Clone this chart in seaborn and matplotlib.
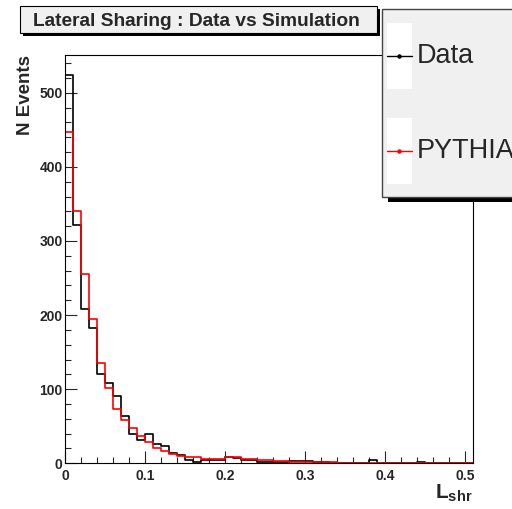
import numpy as np
import pandas as pd
import matplotlib
matplotlib.use('Agg')
import matplotlib.pyplot as plt
from matplotlib.patches import Rectangle
from matplotlib.lines import Line2D
import seaborn as sns

# bin edges: 51 bins of width 0.01 from 0 to 0.51
bin_edges = [round(i * 0.01, 3) for i in range(52)]

data_counts = [524, 322, 208, 183, 121, 108, 91, 64, 40, 31,
               39, 26, 24, 14, 11, 5, 2, 5, 5, 5,
               8, 7, 5, 5, 2, 2, 2, 2, 3, 3,
               3, 2, 2, 1, 1, 1, 0, 1, 5, 1,
               1, 1, 1, 1, 2, 1, 1, 1, 0, 1, 0]

pythia_counts = [447, 340, 255, 195, 135, 102, 73, 58, 47, 37,
                 29, 20, 16, 13, 10, 9, 8, 6, 6, 6,
                 9, 8, 6, 6, 4, 4, 3, 3, 2, 2,
                 2, 2, 2, 2, 1, 1, 1, 1, 1, 1,
                 1, 1, 1, 1, 1, 1, 1, 1, 1, 1, 0]

series_names = ['Data', 'PYTHIA']
series_colors = ['black', '#ff0000']
x_ticks = [0, 0.1, 0.2, 0.3, 0.4, 0.5]
x_tick_labels = ['0', '0.1', '0.2', '0.3', '0.4', '0.5']
y_ticks = [0, 100, 200, 300, 400, 500]

sns.set_style('ticks')
plt.rcParams['font.family'] = ['Liberation Sans', 'DejaVu Sans']
plt.rcParams['mathtext.fontset'] = 'custom'
plt.rcParams['mathtext.bf'] = 'Liberation Sans:bold'
plt.rcParams['mathtext.rm'] = 'Liberation Sans'

edges = np.array(bin_edges)
centers = (edges[:-1] + edges[1:]) / 2
df = pd.DataFrame({
    'x': np.concatenate([centers, centers]),
    'n': data_counts + pythia_counts,
    'src': ['Data'] * len(centers) + ['PYTHIA'] * len(centers),
})

W, H = 512, 509
fig = plt.figure(figsize=(W / 100, H / 100), dpi=100)
fig.patch.set_facecolor('white')
ax = fig.add_axes([65.3 / W, 1 - 463.3 / H, (473 - 65.3) / W, (463.3 - 55) / H])

for name, col in zip(series_names, series_colors):
    sub = df[df['src'] == name].reset_index(drop=True)
    sns.histplot(data=sub, x='x', weights='n', bins=bin_edges, element='step',
                 fill=False, color=col, linewidth=1.2, ax=ax)

ax.set_xlim(0, 0.51)
ax.set_ylim(0, 551)
ax.set_xticks(x_ticks)
ax.set_xticklabels(x_tick_labels)
ax.set_xticks(np.arange(0, 0.51, 0.02), minor=True)
ax.set_yticks(y_ticks)
ax.set_yticks(np.arange(0, 551, 20), minor=True)
ax.tick_params(which='both', direction='in', top=False, right=False, width=0.8)
ax.tick_params(which='major', length=8.5, labelsize=10)
ax.tick_params(which='minor', length=4.2)
ax.tick_params(axis='x', pad=4)
ax.tick_params(axis='y', pad=2)
for lab in ax.get_xticklabels() + ax.get_yticklabels():
    lab.set_fontweight('bold')
for sp in ax.spines.values():
    sp.set_color('black')
    sp.set_linewidth(0.8)

ax.set_ylabel('N Events', loc='top', fontsize=13.5, fontweight='bold')
ax.yaxis.set_label_coords(-0.077, 1.0)
ax.set_xlabel(r'$\mathbf{L}_{\mathbf{shr}}$', loc='right', fontsize=15)
ax.xaxis.set_label_coords(1.0, -0.047)


def fig_rect(x0, y0, x1, y1, **kw):
    # pixel box (top-left origin) to figure coordinates
    r = Rectangle((x0 / W, 1 - y1 / H), (x1 - x0) / W, (y1 - y0) / H,
                  transform=fig.transFigure, clip_on=False, **kw)
    fig.add_artist(r)
    return r


# title box with shadow
fig_rect(23, 9, 380, 36, facecolor='black', edgecolor='none', zorder=5)
fig_rect(20, 6, 377, 33, facecolor='#f0f0f0', edgecolor='black', linewidth=0.8, zorder=6)
fig.text(196 / W, 1 - 21 / H, 'Lateral Sharing : Data vs Simulation', ha='center', va='center',
         fontsize=13.8, fontweight='bold', zorder=7)

# legend box with shadow
fig_rect(388, 14, 560, 202, facecolor='black', edgecolor='none', zorder=5)
fig_rect(382, 9.3, 560, 197, facecolor='#f0f0f0', edgecolor='#444444', linewidth=1.0, zorder=6)
for i, (name, col) in enumerate(zip(series_names, series_colors)):
    yc = 56 + i * 95
    fig_rect(386.7, yc - 33, 411.7, yc + 33, facecolor='white', edgecolor='none', zorder=7)
    fig.add_artist(Line2D([387 / W, 411.7 / W], [1 - yc / H, 1 - yc / H], color=col,
                          linewidth=1.0, transform=fig.transFigure, zorder=8))
    fig.add_artist(Line2D([399 / W], [1 - yc / H], color=col, marker='o', markersize=2.2,
                          transform=fig.transFigure, zorder=9))
    fig.text(416.5 / W, 1 - yc / H, name, ha='left', va='center', fontsize=19.5, zorder=9)

fig.savefig('out.png', dpi=100, facecolor='white')
